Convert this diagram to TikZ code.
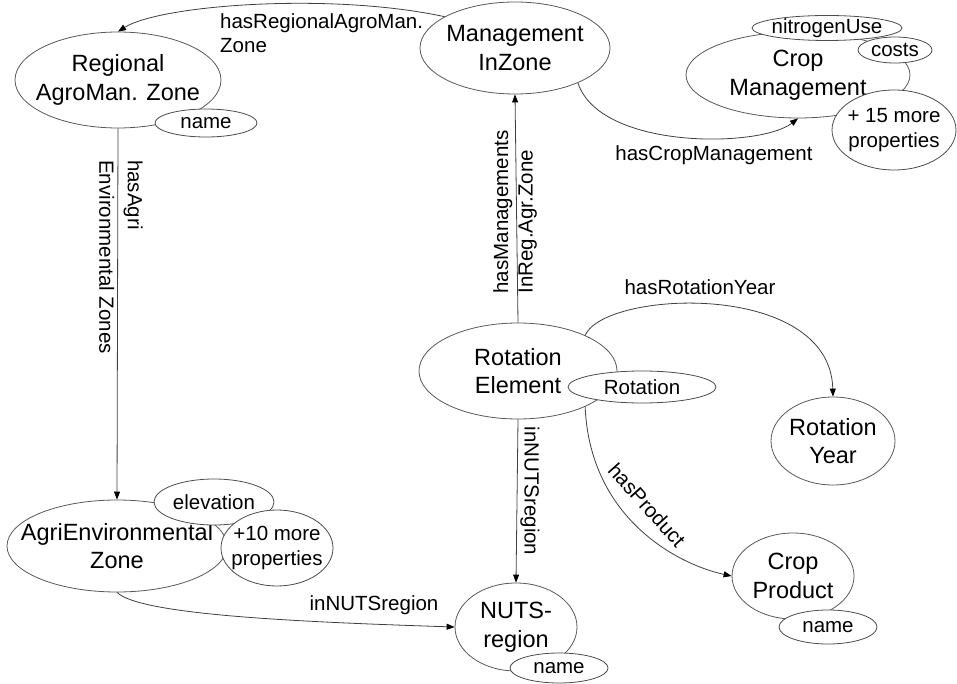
\documentclass[tikz,border=0pt]{standalone}
\usepackage{fontspec}
\setmainfont{Liberation Sans}
\usetikzlibrary{shapes.geometric,arrows.meta}
\begin{document}
\begin{tikzpicture}[x=1pt,y=-1pt,
  cls/.style={ellipse,draw=black!65,line width=0.8pt,fill=white,inner sep=0pt},
  prop/.style={ellipse,draw=black!70,line width=0.8pt,fill=white,inner sep=0pt},
  ctext/.style={font=\fontsize{23.5}{28.5}\selectfont,align=center,inner sep=0pt},
  ptext/.style={font=\fontsize{20.5}{25}\selectfont,align=center,inner sep=0pt},
  rel/.style={draw=black!75,line width=0.8pt,-{Triangle[length=8pt,width=6pt,black]}},
  lbl/.style={font=\fontsize{20.5}{24.5}\selectfont,inner sep=0pt,align=left},
]
\fill[white] (0,0) rectangle (957,684);
\useasboundingbox (0,0) rectangle (957,684);

% classes
\node[cls,minimum width=206,minimum height=96,label={[ctext]center:{Regional\\AgroMan. Zone}}] (raz) at (118,80) {};
\node[cls,minimum width=190,minimum height=92,label={[ctext]center:{Management\\InZone}}] (miz) at (515,48) {};
\node[cls,minimum width=224,minimum height=86,label={[ctext]center:{Crop\\Management}}] (cm) at (798,75) {};
\node[cls,minimum width=198,minimum height=96,label={[ctext]center:{Rotation\\Element}}] (re) at (518,371) {};
\node[cls,minimum width=124,minimum height=88,label={[ctext]center:{Rotation\\Year}}] (ry) at (833,441) {};
\node[cls,minimum width=122,minimum height=86,label={[ctext]center:{Crop\\Product}}] (cp) at (793,576) {};
\node[cls,minimum width=122,minimum height=88,label={[ctext]center:{NUTS-\\region}}] (nuts) at (516,627) {};
\node[cls,minimum width=220,minimum height=92,label={[ctext]center:{AgriEnvironmental\\Zone}}] (aez) at (117,546) {};

% properties
\node[prop,minimum width=102,minimum height=28,label={[ptext]center:name}] (razname) at (206,123) {};
\node[prop,minimum width=150,minimum height=25,label={[ptext]center:nitrogenUse}] (nitro) at (827,28) {};
\node[prop,minimum width=74,minimum height=26,label={[ptext]center:costs}] (costs) at (895,50) {};
\node[prop,minimum width=124,minimum height=80,label={[ptext]center:{+ 15 more\\properties}}] (cmmore) at (894,130) {};
\node[prop,minimum width=148,minimum height=32,label={[ptext]center:Rotation}] (rot) at (642,387) {};
\node[prop,minimum width=98,minimum height=34,label={[ptext]center:name}] (cpname) at (828,627) {};
\node[prop,minimum width=98,minimum height=30,label={[ptext]center:name}] (nutsname) at (559,668) {};
\node[prop,minimum width=120,minimum height=46,label={[ptext]center:elevation}] (elev) at (214,502) {};
\node[prop,minimum width=112,minimum height=76,label={[ptext]center:{+10 more\\properties}}] (aezmore) at (277,548) {};

% relations
\draw[rel] (miz.156) .. controls (330,-8) and (160,5) .. (raz.north);
\draw[rel] (miz.-29) .. controls (600,150) and (760,148) .. (cm.south);
\draw[rel] (re.north) -- (miz.south);
\draw[rel] (raz.south) -- (aez.north);
\draw[rel] (aez.south) .. controls (140,615) and (300,622) .. (nuts.west);
\draw[rel] (re.south) -- (nuts.north);
\draw[rel] (re.28) .. controls (605,290) and (830,280) .. (ry.north);
\draw[rel] (re.-28) .. controls (590,520) and (680,565) .. (cp.west);

% relation labels
\node[lbl,anchor=north west] (l1) at (220,13) {hasRegionalAgroMan.\\Zone};
\node[lbl] (l2) at (714,155) {hasCropManagement};
\node[lbl,rotate=90] (l3) at (515,212) {hasManagements\\InReg.Agr.Zone};
\node[lbl,rotate=-90,font=\fontsize{20.5}{28.5}\selectfont] (l4) at (121,257) {hasAgri\\Environmental Zones};
\node[lbl] (l5) at (374,605) {inNUTSregion};
\node[lbl,rotate=-90] (l6) at (530,491) {inNUTSregion};
\node[lbl] (l7) at (700,287) {hasRotationYear};
\node[lbl,rotate=-48] (l8) at (647,505) {hasProduct};
\end{tikzpicture}
\end{document}
